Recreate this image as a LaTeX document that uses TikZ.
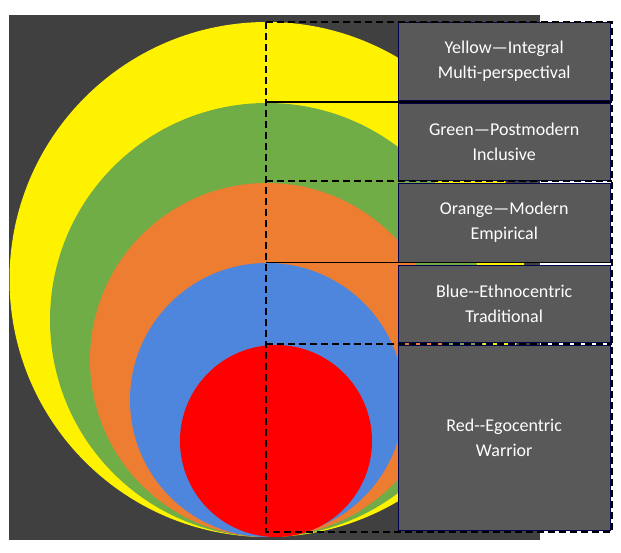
\documentclass[tikz,border=0pt]{standalone}
\usepackage{fontspec}
\setmainfont{Carlito}
\usepackage{tikz}
\definecolor{ringgreen}{RGB}{112,173,71}
\definecolor{ringorange}{RGB}{237,125,49}
\definecolor{ringblue}{RGB}{78,134,222}
\tikzset{
  stagebox/.style={draw=blue!30!black, thin, fill=black!65, text=white, minimum width=212pt,
    align=center, font=\fontsize{18}{25}\selectfont, anchor=north west},
  split/.style={line width=1.8pt, dash pattern=on 7pt off 4pt},
}
\begin{document}
\begin{tikzpicture}[x=1pt,y=-1pt]
  \useasboundingbox (0,0) rectangle (621,553);
  \fill[black!75] (9,15) rectangle (540,540);
  % nested circles, all touching at the bottom
  \fill[yellow] (267,279.5) circle (257.5);
  \fill[ringgreen] (267,320) circle (217);
  \fill[ringorange] (267,360) circle (177);
  \fill[ringblue] (267,400) circle (137);
  \fill[red] (276,441) circle (96);
  % labels
  \node[stagebox, minimum height=78pt] (yellowbox) at (398,22) {Yellow—Integral\\Multi-perspectival};
  \node[stagebox, minimum height=77pt] (greenbox) at (398,103) {Green—Postmodern\\Inclusive};
  \node[stagebox, minimum height=79pt] (orangebox) at (398,183) {Orange—Modern\\Empirical};
  \node[stagebox, minimum height=77pt] (bluebox) at (398,265) {Blue{-}{-}Ethnocentric\\Traditional};
  \node[stagebox, minimum height=185pt] (redbox) at (398,345) {Red{-}{-}Egocentric\\Warrior};
  % dashed frame
  \draw[split] (266,22) rectangle (612,532);
  \draw[line width=1.8pt] (266,102) -- (612,102);
  \draw[split] (266,181) -- (612,181);
  \draw[thin] (266,262) -- (612,262);
  \draw[split] (266,344) -- (612,344);
\end{tikzpicture}
\end{document}
